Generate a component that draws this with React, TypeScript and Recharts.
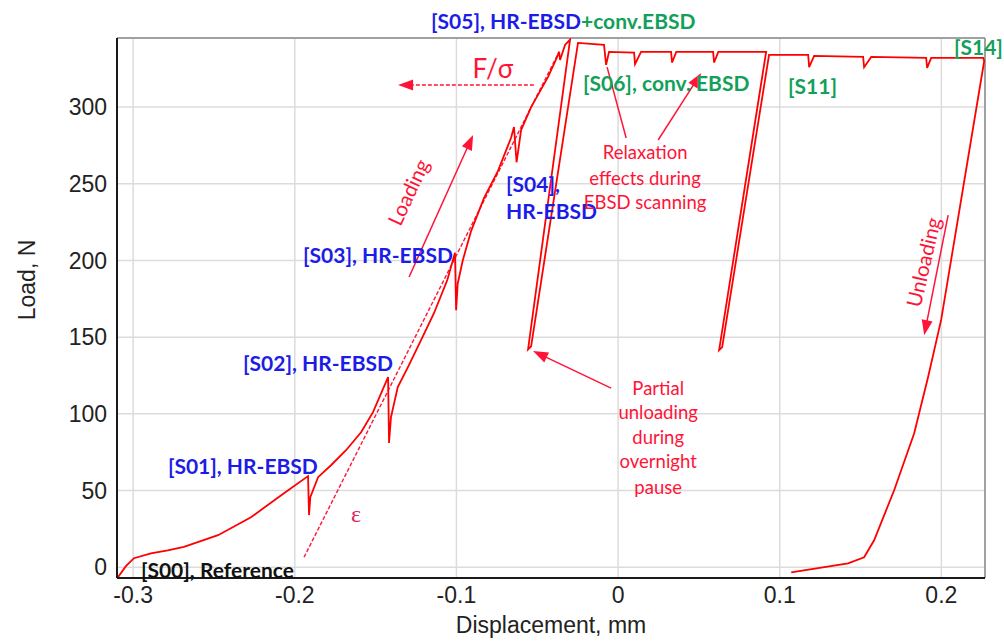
import React from 'react';
import {
  LineChart,
  Line,
  XAxis,
  YAxis,
  CartesianGrid,
  ReferenceLine,
  ReferenceDot,
} from 'recharts';

// Axis ranges and ticks
const X_DOMAIN: [number, number] = [-0.31, 0.227];
const Y_DOMAIN: [number, number] = [-7, 345];
const xTicks = [-0.3, -0.2, -0.1, 0, 0.1, 0.2];
const yTicks = [0, 50, 100, 150, 200, 250, 300];

// Load–displacement record of the in-situ test (mm / N), in acquisition order
const displacement = [
  -0.3094, -0.3045, -0.2995, -0.289, -0.2786, -0.2686, -0.2475, -0.2271, -0.2067, -0.1918, -0.1912,
  -0.1904, -0.1856, -0.1776, -0.1683, -0.159, -0.1516, -0.1423, -0.1417, -0.1405, -0.1363,
  -0.13, -0.1219, -0.1139, -0.1056, -0.1009, -0.1002, -0.0992, -0.0961, -0.0909, -0.0829,
  -0.0743, -0.0662, -0.0644, -0.0628, -0.06, -0.0538, -0.0433, -0.0377, -0.0365, -0.0359,
  -0.0328, -0.0297, -0.0557, -0.0538, -0.0248, -0.0087, -0.0074, -0.0056, 0.0099, 0.0105,
  0.0142, 0.0328, 0.0334, 0.036, 0.0588, 0.0594, 0.062, 0.0916, 0.0625, 0.0644,
  0.0934, 0.1176, 0.1182, 0.1213, 0.1516, 0.1522, 0.1566, 0.1906, 0.1912, 0.1937,
  0.2259, 0.2265, 0.1999, 0.1918, 0.1832, 0.1708, 0.1584, 0.1522, 0.1423, 0.1071,
];
const load = [
  -6.5, 0.7, 5.9, 9.1, 11.0, 13.3, 20.9, 32.6, 48.3, 59.4, 34.0,
  45.7, 58.7, 66.5, 76.3, 88.0, 101.1, 124.0, 81.0, 97.8, 117.5,
  130.5, 148.0, 165.6, 187.4, 205.0, 167.6, 185.0, 200.0, 219.3, 240.8,
  258.4, 280.0, 287.0, 264.0, 285.0, 300.0, 319.6, 332.6, 336.0, 330.7,
  340.5, 344.0, 142.0, 144.0, 341.8, 340.5, 327.5, 336.0, 335.5, 328.0,
  336.0, 336.0, 329.0, 336.0, 336.0, 329.0, 336.0, 336.0, 141.5, 143.5,
  334.0, 334.0, 326.0, 333.3, 332.7, 326.0, 332.7, 332.0, 325.5, 332.0,
  332.0, 330.0, 161.4, 124.0, 87.4, 50.2, 17.6, 6.5, 2.6, -3.3,
];

const curve = displacement.map((x, i) => ({ x, y: load[i] }));

// Colours
const CURVE_RED = '#ff0000';
const NOTE_RED = '#ff1438';
const BLUE = '#1c1ce8';
const GREEN = '#13a05a';
const BLACK = '#111111';

const LABEL_FONT = 'Lato, "Open Sans", sans-serif';
const AXIS_FONT = '"Liberation Sans", Arial, sans-serif';

// Scan-stage labels (left edge, vertical centre in data units)
type Part = [string, string];
const stageLabels: { x: number; y: number; parts: Part[] }[] = [
  { x: -0.2952, y: -1.3, parts: [['[S00], Reference', BLACK]] },
  { x: -0.2785, y: 66.5, parts: [['[S01], HR-EBSD', BLUE]] },
  { x: -0.232, y: 133.7, parts: [['[S02], HR-EBSD', BLUE]] },
  { x: -0.1949, y: 204, parts: [['[S03], HR-EBSD', BLUE]] },
  { x: -0.0693, y: 250.5, parts: [['[S04],', BLUE]] },
  { x: -0.0693, y: 232.9, parts: [['HR-EBSD', BLUE]] },
  { x: -0.1157, y: 356.8, parts: [['[S05], HR-EBSD', BLUE], ['+conv.EBSD', GREEN]] },
  { x: -0.0217, y: 316.4, parts: [['[S06], conv. EBSD', GREEN]] },
  { x: 0.1052, y: 314.4, parts: [['[S11]', GREEN]] },
  { x: 0.2078, y: 339.9, parts: [['[S14]', GREEN]] },
];

// Explanatory notes (centre in data units)
const relaxationLines = ['Relaxation', 'effects during', 'EBSD scanning'];
const relaxationY = [270.7, 253.8, 238.1];
const RELAXATION_X = 0.0167;

const pauseLines = ['Partial', 'unloading', 'during', 'overnight', 'pause'];
const pauseY = [116.8, 101.1, 84.8, 69.1, 52.2];
const PAUSE_X = 0.0248;

// Annotation strokes: [x1, y1, x2, y2], arrowhead at the second point
const stressArrow = [-0.0521, 314.4, -0.1361, 314.4];
const strainLine = [-0.1943, 6.5, -0.0365, 336];
const loadingArrow = [-0.1293, 189.2, -0.0897, 281.8];
const unloadingArrow = [0.2042, 229.6, 0.1894, 151.3];
const relaxArrowA = [0.005, 279.8, -0.0068, 326];
const relaxArrowB = [0.0248, 278.5, 0.0514, 322.2];
const pauseArrow = [-0.0043, 116.8, -0.0526, 140.9];

const arrowShape =
  (color: string, head: boolean, dash?: string, width = 1.5) =>
  (p: any) => {
    const { x1, y1, x2, y2 } = p;
    const a = Math.atan2(y2 - y1, x2 - x1);
    const L = 15;
    const W = 5.5;
    const bx = x2 - L * Math.cos(a);
    const by = y2 - L * Math.sin(a);
    const pts = `${x2},${y2} ${bx + W * Math.sin(a)},${by - W * Math.cos(a)} ${bx - W * Math.sin(a)},${by + W * Math.cos(a)}`;
    const ex = head ? bx + 2 * Math.cos(a) : x2;
    const ey = head ? by + 2 * Math.sin(a) : y2;
    return (
      <g>
        <line x1={x1} y1={y1} x2={ex} y2={ey} stroke={color} strokeWidth={width} strokeDasharray={dash} />
        {head && <polygon points={pts} fill={color} />}
      </g>
    );
  };

const seg = (s: number[]) => [
  { x: s[0], y: s[1] },
  { x: s[2], y: s[3] },
];

const textShape =
  (content: React.ReactNode, style: React.SVGProps<SVGTextElement>) =>
  (p: any) => (
    <text x={p.cx} y={p.cy} dominantBaseline="central" {...style}>
      {content}
    </text>
  );

export default function App() {
  return (
    <div style={{ position: 'absolute', left: 0, top: 0, width: 1004, height: 641, background: '#fff' }}>
      <LineChart
        width={1004}
        height={641}
        data={curve}
        margin={{ top: 38, right: 19, bottom: 33, left: 57 }}
      >
        <CartesianGrid stroke="#dcdcdc" strokeWidth={1.5} />
        <XAxis
          dataKey="x"
          type="number"
          domain={X_DOMAIN}
          ticks={xTicks}
          allowDataOverflow
          height={30}
          tickLine={false}
          tickSize={6}
          tickMargin={3}
          axisLine={{ stroke: '#1a1a1a', strokeWidth: 2 }}
          tick={{ fontSize: 23, fontFamily: AXIS_FONT, fill: '#222' }}
          label={{
            content: (props: any) => {
              const vb = props.viewBox;
              return (
                <text
                  x={vb.x + vb.width / 2}
                  y={vb.y + 47}
                  textAnchor="middle"
                  dominantBaseline="central"
                  fontSize={23}
                  fontFamily={AXIS_FONT}
                  fill="#222"
                >
                  Displacement, mm
                </text>
              );
            },
          }}
        />
        <YAxis
          type="number"
          domain={Y_DOMAIN}
          ticks={yTicks}
          allowDataOverflow
          width={60}
          tickLine={false}
          tickSize={6}
          tickMargin={4}
          axisLine={{ stroke: '#1a1a1a', strokeWidth: 2 }}
          tick={{ fontSize: 23, fontFamily: AXIS_FONT, fill: '#222' }}
          label={{
            content: (props: any) => {
              const vb = props.viewBox;
              const cx = vb.x - 30;
              const cy = vb.y + vb.height / 2 - 28;
              return (
                <text
                  x={cx}
                  y={cy}
                  textAnchor="middle"
                  dominantBaseline="central"
                  transform={`rotate(-90 ${cx} ${cy})`}
                  fontSize={23}
                  fontFamily={AXIS_FONT}
                  fill="#222"
                >
                  Load, N
                </text>
              );
            },
          }}
        />

        {/* top and right frame */}
        <ReferenceLine y={Y_DOMAIN[1]} stroke="#8a8a8a" strokeWidth={1.5} />
        <ReferenceLine x={X_DOMAIN[1]} stroke="#8a8a8a" strokeWidth={1.5} />

        {/* guide lines */}
        <ReferenceLine segment={seg(strainLine)} ifOverflow="visible" shape={arrowShape(NOTE_RED, false, '4 2', 1.4)} />
        <ReferenceLine segment={seg(stressArrow)} ifOverflow="visible" shape={arrowShape(NOTE_RED, true, '4 2', 1.4)} />

        <Line
          type="linear"
          dataKey="y"
          stroke={CURVE_RED}
          strokeWidth={1.8}
          dot={false}
          isAnimationActive={false}
        />

        <ReferenceLine segment={seg(loadingArrow)} ifOverflow="visible" shape={arrowShape(NOTE_RED, true)} />
        <ReferenceLine segment={seg(unloadingArrow)} ifOverflow="visible" shape={arrowShape(NOTE_RED, true)} />
        <ReferenceLine segment={seg(relaxArrowA)} ifOverflow="visible" shape={arrowShape(NOTE_RED, false)} />
        <ReferenceLine segment={seg(relaxArrowB)} ifOverflow="visible" shape={arrowShape(NOTE_RED, true)} />
        <ReferenceLine segment={seg(pauseArrow)} ifOverflow="visible" shape={arrowShape(NOTE_RED, true)} />

        {stageLabels.map((l, i) => (
          <ReferenceDot
            key={`s${i}`}
            x={l.x}
            y={l.y}
            r={0}
            ifOverflow="visible"
            shape={textShape(
              l.parts.map(([t, c], j) => (
                <tspan key={j} fill={c}>
                  {t}
                </tspan>
              )),
              { fontSize: 21, fontWeight: 700, fontFamily: LABEL_FONT }
            )}
          />
        ))}

        {relaxationLines.map((t, i) => (
          <ReferenceDot
            key={`r${i}`}
            x={RELAXATION_X}
            y={relaxationY[i]}
            r={0}
            ifOverflow="visible"
            shape={textShape(t, { fontSize: 18.5, fontFamily: LABEL_FONT, fill: NOTE_RED, textAnchor: 'middle' })}
          />
        ))}

        {pauseLines.map((t, i) => (
          <ReferenceDot
            key={`p${i}`}
            x={PAUSE_X}
            y={pauseY[i]}
            r={0}
            ifOverflow="visible"
            shape={textShape(t, { fontSize: 18.5, fontFamily: LABEL_FONT, fill: NOTE_RED, textAnchor: 'middle' })}
          />
        ))}

        <ReferenceDot
          x={-0.0774}
          y={325.5}
          r={0}
          ifOverflow="visible"
          shape={textShape('F/σ', { fontSize: 26, fontFamily: LABEL_FONT, fill: NOTE_RED, textAnchor: 'middle' })}
        />
        <ReferenceDot
          x={-0.1621}
          y={34.6}
          r={0}
          ifOverflow="visible"
          shape={textShape('ε', { fontSize: 24, fontFamily: '"Liberation Serif", serif', fill: '#e0245e', textAnchor: 'middle' })}
        />
        <ReferenceDot
          x={-0.13}
          y={244.6}
          r={0}
          ifOverflow="visible"
          shape={(p: any) => (
            <text
              x={p.cx}
              y={p.cy}
              textAnchor="middle"
              dominantBaseline="central"
              transform={`rotate(-65 ${p.cx} ${p.cy})`}
              fontSize={20.5}
              fontFamily={LABEL_FONT}
              fill={NOTE_RED}
            >
              Loading
            </text>
          )}
        />
        <ReferenceDot
          x={0.1887}
          y={199}
          r={0}
          ifOverflow="visible"
          shape={(p: any) => (
            <text
              x={p.cx}
              y={p.cy}
              textAnchor="middle"
              dominantBaseline="central"
              transform={`rotate(-77 ${p.cx} ${p.cy})`}
              fontSize={20.5}
              fontFamily={LABEL_FONT}
              fill={NOTE_RED}
            >
              Unloading
            </text>
          )}
        />
      </LineChart>
    </div>
  );
}
